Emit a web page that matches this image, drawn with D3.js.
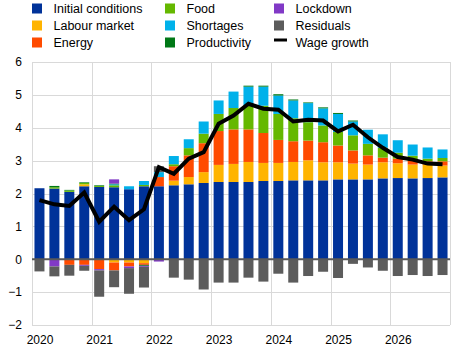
<!DOCTYPE html>
<html>
<head>
<meta charset="utf-8">
<script src="https://cdn.jsdelivr.net/npm/d3@7"></script>
<style>
  html, body { margin: 0; padding: 0; background: #fff; }
  svg { display: block; font-family: "Liberation Sans", Arial, sans-serif; }
</style>
</head>
<body>
<svg id="chart" width="472" height="355"></svg>
<script>
// ---- data (quarterly 2020Q1 .. 2026Q4) ----
const quarters = d3.range(28).map(i => `${2020 + Math.floor(i / 4)}Q${i % 4 + 1}`);
const yearTicks = [2020, 2021, 2022, 2023, 2024, 2025, 2026];
const yTicks = [-2, -1, 0, 1, 2, 3, 4, 5, 6];

const initialConditions = [2.16, 2.15, 2.05, 2.22, 2.20, 2.19, 2.13, 2.22, 2.22, 2.25, 2.28, 2.32, 2.35, 2.35, 2.35, 2.38, 2.38, 2.40, 2.40, 2.40, 2.43, 2.43, 2.43, 2.46, 2.47, 2.46, 2.47, 2.49];
const labourMarket      = [0, 0, 0, 0.06, 0, -0.10, -0.10, -0.12, 0, 0.14, 0.22, 0.33, 0.52, 0.55, 0.61, 0.55, 0.55, 0.56, 0.61, 0.55, 0.52, 0.48, 0.45, 0.49, 0.45, 0.42, 0.41, 0.36];
const energy            = [0, 0, -0.17, -0.17, -0.30, -0.24, -0.12, -0.05, 0.28, 0.44, 0.66, 0.88, 1.03, 1.05, 0.99, 0.91, 0.70, 0.63, 0.60, 0.61, 0.51, 0.40, 0.28, 0.14, 0.14, 0.12, 0.10, 0.13];
const food              = [0, 0.04, 0.04, 0.04, 0.03, 0.06, 0, 0.04, 0, 0.06, 0.22, 0.29, 0.52, 0.65, 0.72, 0.83, 0.79, 0.70, 0.56, 0.51, 0.41, 0.46, 0.35, 0.30, 0.18, 0.15, 0.08, 0.10];
const shortages         = [0, 0, 0, 0, 0, 0.03, 0.09, 0.12, 0.15, 0.25, 0.27, 0.37, 0.41, 0.50, 0.58, 0.58, 0.56, 0.54, 0.58, 0.52, 0.55, 0.42, 0.43, 0.41, 0.38, 0.34, 0.34, 0.26];
const productivity      = [0, 0.04, 0.02, 0.02, 0.02, 0.02, 0, -0.03, 0, 0, 0, 0, 0, 0, 0.03, 0.03, 0.04, 0.03, 0.02, 0.03, 0.03, 0.03, 0, 0, 0, 0, 0, 0];
const lockdown          = [0, -0.22, 0, -0.03, -0.04, 0.13, -0.05, -0.03, -0.07, 0, 0, 0, 0, 0, 0, 0, 0, 0, 0, 0, 0, 0, 0, 0, 0, 0, 0, 0];
const residuals         = [-0.37, -0.30, -0.33, -0.15, -0.80, -0.51, -0.78, -0.63, 0.18, -0.56, -0.62, -0.92, -0.71, -0.71, -0.56, -0.68, -0.44, -0.71, -0.51, -0.38, -0.57, -0.14, -0.25, -0.35, -0.51, -0.48, -0.51, -0.48];
const wageGrowth        = [1.80, 1.67, 1.62, 2.03, 1.14, 1.60, 1.19, 1.52, 2.80, 2.60, 3.06, 3.26, 4.12, 4.37, 4.73, 4.58, 4.55, 4.19, 4.24, 4.22, 3.89, 4.09, 3.71, 3.39, 3.11, 3.03, 2.91, 2.89];

const seriesNames  = ["Initial conditions", "Labour market", "Energy", "Food", "Shortages", "Productivity", "Lockdown", "Residuals"];
const seriesValues = [initialConditions, labourMarket, energy, food, shortages, productivity, lockdown, residuals];
const seriesColors = ["#003299", "#FFB400", "#FF4B00", "#65B800", "#00B1EA", "#007816", "#8139C6", "#5C5C5C"];

// ---- build table ----
const table = quarters.map((q, i) => {
  const row = { q };
  seriesNames.forEach((n, k) => row[n] = seriesValues[k][i]);
  return row;
});

const svg = d3.select("#chart");
const plotLeft = 32, plotRight = 450, plotTop = 62, plotBottom = 325;

const xYear = d3.scaleLinear().domain([2020, 2027]).range([plotLeft, plotRight]);
const x = d3.scaleBand().domain(quarters).range([plotLeft, plotRight]).paddingInner(0.33).paddingOuter(0.165);
const y = d3.scaleLinear().domain([-2, 6]).range([plotBottom, plotTop]);

// gridlines
const grid = svg.append("g").attr("stroke", "#d9d9d9").attr("stroke-width", 1);
grid.selectAll("line.h").data(yTicks).join("line").attr("class", "h")
  .attr("x1", plotLeft).attr("x2", plotRight)
  .attr("y1", d => Math.round(y(d)) + 0.5).attr("y2", d => Math.round(y(d)) + 0.5);
grid.selectAll("line.v").data(yearTicks.concat([2027])).join("line").attr("class", "v")
  .attr("y1", plotTop).attr("y2", plotBottom)
  .attr("x1", d => Math.round(xYear(d)) + 0.5).attr("x2", d => Math.round(xYear(d)) + 0.5);

// stacked bars
const stack = d3.stack().keys(seriesNames).offset(d3.stackOffsetDiverging);
const stacked = stack(table);
svg.append("g").selectAll("g").data(stacked).join("g")
  .attr("fill", (d, i) => seriesColors[i])
  .selectAll("rect").data(d => d.filter(s => s[1] !== s[0])).join("rect")
  .attr("x", d => x(d.data.q))
  .attr("width", x.bandwidth())
  .attr("y", d => y(Math.max(d[0], d[1])))
  .attr("height", d => Math.abs(y(d[0]) - y(d[1])));

// zero line
svg.append("line")
  .attr("x1", plotLeft).attr("x2", plotRight)
  .attr("y1", y(0)).attr("y2", y(0))
  .attr("stroke", "#595959").attr("stroke-width", 2);

// wage growth line
const line = d3.line()
  .x((d, i) => x(quarters[i]) + x.bandwidth() / 2)
  .y(d => y(d));
svg.append("path").datum(wageGrowth)
  .attr("d", line)
  .attr("fill", "none")
  .attr("stroke", "#000")
  .attr("stroke-width", 4)
  .attr("stroke-linejoin", "miter");

// axes labels
const yAxis = d3.axisLeft(y).tickValues(yTicks).tickSize(0).tickPadding(10).tickFormat(d3.format("d"));
svg.append("g").attr("transform", `translate(${plotLeft},0)`).call(yAxis)
  .call(g => g.select(".domain").remove())
  .call(g => g.selectAll("text").attr("font-size", 12).attr("fill", "#000").attr("font-family", "Liberation Sans, Arial, sans-serif"));

const xAxis = d3.axisBottom(xYear).tickValues(yearTicks).tickSize(0).tickPadding(0).tickFormat(d3.format("d"));
svg.append("g").attr("transform", `translate(0,${plotBottom})`).call(xAxis)
  .call(g => g.select(".domain").remove())
  .call(g => g.selectAll("text")
    .attr("font-size", 12).attr("fill", "#000").attr("font-family", "Liberation Sans, Arial, sans-serif")
    .attr("dy", null).attr("y", 19)
    .attr("x", x.step() / 2));

// legend
const legendItems = [
  { name: "Initial conditions", col: 0, row: 0 },
  { name: "Labour market", col: 0, row: 1 },
  { name: "Energy", col: 0, row: 2 },
  { name: "Food", col: 1, row: 0 },
  { name: "Shortages", col: 1, row: 1 },
  { name: "Productivity", col: 1, row: 2 },
  { name: "Lockdown", col: 2, row: 0 },
  { name: "Residuals", col: 2, row: 1 },
  { name: "Wage growth", col: 2, row: 2 }
];
const colX = [32, 165, 274];
const rowY = [8.5, 25.5, 42.5];
const lg = svg.append("g");
legendItems.forEach(it => {
  const g = lg.append("g").attr("transform", `translate(${colX[it.col]},${rowY[it.row]})`);
  const idx = seriesNames.indexOf(it.name);
  if (idx >= 0) {
    g.append("rect").attr("x", 0).attr("y", -5).attr("width", 10).attr("height", 10).attr("fill", seriesColors[idx]);
  } else {
    g.append("line").attr("x1", 0).attr("x2", 13).attr("y1", -2.5).attr("y2", -2.5).attr("stroke", "#000").attr("stroke-width", 3);
  }
  g.append("text").attr("x", 21.5).attr("y", 0).attr("dy", "0.35em")
    .attr("font-size", 12.5).attr("fill", "#000").text(it.name);
});
</script>
</body>
</html>
